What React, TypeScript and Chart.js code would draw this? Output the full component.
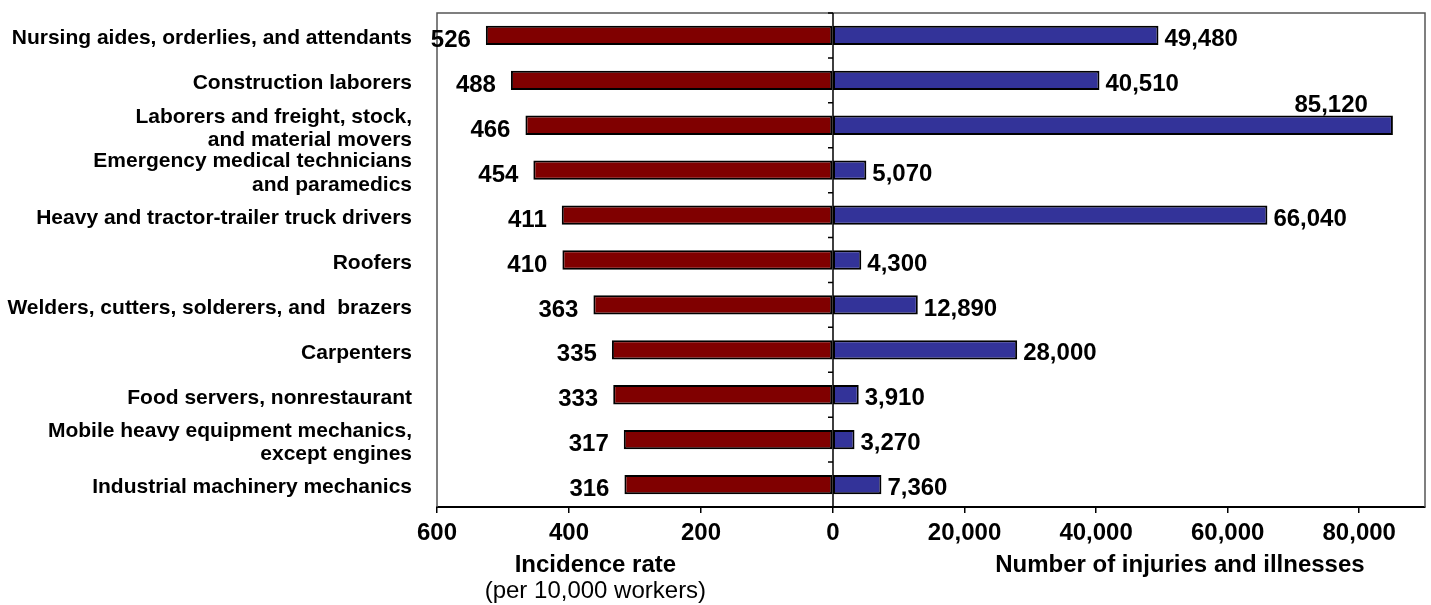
import { useEffect, useRef } from "react";
import { Chart, registerables } from "chart.js";

Chart.register(...registerables);

const categories: (string | string[])[] = [
  "Nursing aides, orderlies, and attendants",
  "Construction laborers",
  ["Laborers and freight, stock,", "and material movers"],
  ["Emergency medical technicians", "and paramedics"],
  "Heavy and tractor-trailer truck drivers",
  "Roofers",
  "Welders, cutters, solderers, and  brazers",
  "Carpenters",
  "Food servers, nonrestaurant",
  ["Mobile heavy equipment mechanics,", "except engines"],
  "Industrial machinery mechanics",
];

const incidenceRate = [526, 488, 466, 454, 411, 410, 363, 335, 333, 317, 316];
const injuryCounts = [49480, 40510, 85120, 5070, 66040, 4300, 12890, 28000, 3910, 3270, 7360];

const rateTicks = [0, 200, 400, 600];
const countTicks = [20000, 40000, 60000, 80000];

const rateTitle = "Incidence rate";
const rateSubtitle = "(per 10,000 workers)";
const countTitle = "Number of injuries and illnesses";

const FONT = "'Liberation Sans', Arial, Helvetica, sans-serif";
const fmt = (v: number) => v.toLocaleString("en-US");

export default function App() {
  const ref = useRef<HTMLCanvasElement | null>(null);

  useEffect(() => {
    if (!ref.current) return;

    const framePlugin = {
      id: "frame",
      beforeDatasetsDraw(chart: any) {
        const { ctx, chartArea } = chart;
        ctx.save();
        ctx.strokeStyle = "#555555";
        ctx.lineWidth = 1.5;
        ctx.beginPath();
        ctx.moveTo(chartArea.left, chartArea.bottom);
        ctx.lineTo(chartArea.left, chartArea.top);
        ctx.lineTo(chartArea.right, chartArea.top);
        ctx.lineTo(chartArea.right, chartArea.bottom);
        ctx.stroke();
        ctx.restore();
      },
    };

    const centerPlugin = {
      id: "center",
      afterDatasetsDraw(chart: any) {
        const { ctx, chartArea, scales } = chart;
        const x0 = scales.xL.getPixelForValue(0);
        const y = scales.y;
        const half = (y.getPixelForValue(1) - y.getPixelForValue(0)) / 2;
        ctx.save();
        ctx.strokeStyle = "#000";
        ctx.lineWidth = 1.5;
        ctx.beginPath();
        ctx.moveTo(x0, chartArea.top);
        ctx.lineTo(x0, chartArea.bottom);
        for (let i = 0; i <= categories.length; i++) {
          const yb = y.getPixelForValue(i) - half;
          ctx.moveTo(x0 - 5, yb);
          ctx.lineTo(x0, yb);
        }
        ctx.stroke();
        ctx.restore();
      },
    };

    const valuePlugin = {
      id: "values",
      afterDatasetsDraw(chart: any) {
        const { ctx, chartArea } = chart;
        ctx.save();
        ctx.fillStyle = "#000";
        ctx.font = `bold 24px ${FONT}`;
        ctx.textBaseline = "middle";
        chart.getDatasetMeta(0).data.forEach((bar: any, i: number) => {
          ctx.textAlign = "right";
          ctx.fillText(String(incidenceRate[i]), bar.x - 15, bar.y + 5);
        });
        chart.getDatasetMeta(1).data.forEach((bar: any, i: number) => {
          const text = fmt(injuryCounts[i]);
          const w = ctx.measureText(text).width;
          if (bar.x + 6 + w > chartArea.right) {
            ctx.textAlign = "right";
            ctx.fillText(text, bar.x - 25, bar.y - 20);
          } else {
            ctx.textAlign = "left";
            ctx.fillText(text, bar.x + 6, bar.y + 4);
          }
        });
        ctx.restore();
      },
    };

    const titlePlugin = {
      id: "titles",
      afterDraw(chart: any) {
        const { ctx, chartArea, scales } = chart;
        const xL = scales.xL;
        const xR = scales.xR;
        ctx.save();
        ctx.fillStyle = "#000";
        ctx.textAlign = "center";
        ctx.textBaseline = "middle";
        ctx.font = `bold 24px ${FONT}`;
        const lx = xL.left + (xL.right - xL.left) * 0.4;
        const rx = xR.left + (xR.right - xR.left) * 0.586;
        ctx.fillText(rateTitle, lx, chartArea.bottom + 58);
        ctx.fillText(countTitle, rx, chartArea.bottom + 58);
        ctx.font = `24px ${FONT}`;
        ctx.fillText(rateSubtitle, lx, chartArea.bottom + 84);
        ctx.restore();
      },
    };

    const tickFont = { family: FONT, size: 24, weight: "bold" as const };
    const xGrid = {
      display: true,
      drawOnChartArea: false,
      drawTicks: true,
      tickLength: 6,
      color: "#000",
      lineWidth: 1.5,
    };

    const chart = new Chart(ref.current, {
      type: "bar",
      data: {
        labels: categories as any,
        datasets: [
          {
            label: rateTitle,
            data: incidenceRate,
            xAxisID: "xL",
            yAxisID: "y",
            backgroundColor: "#800000",
            borderColor: "#000",
            borderWidth: 2,
            borderSkipped: false,
            grouped: false,
            categoryPercentage: 1,
            barPercentage: 0.43,
          } as any,
          {
            label: countTitle,
            data: injuryCounts,
            xAxisID: "xR",
            yAxisID: "y",
            backgroundColor: "#333399",
            borderColor: "#000",
            borderWidth: 2,
            borderSkipped: false,
            grouped: false,
            categoryPercentage: 1,
            barPercentage: 0.43,
          } as any,
        ],
      },
      options: {
        indexAxis: "y",
        responsive: true,
        maintainAspectRatio: false,
        animation: false,
        layout: { padding: { top: 13, right: 6, bottom: 57, left: 0 } },
        plugins: {
          legend: { display: false },
          tooltip: { enabled: false },
        },
        scales: {
          y: {
            type: "category",
            position: "left",
            grid: { display: false },
            border: { display: false },
            ticks: {
              autoSkip: false,
              padding: 17,
              labelOffset: 3,
              color: "#000",
              font: { family: FONT, size: 21, weight: "bold", lineHeight: 1.1 },
            },
            afterFit: (s: any) => {
              s.width = 437;
              s.paddingTop = 0;
              s.paddingBottom = 0;
            },
          },
          xL: {
            type: "linear",
            position: "bottom",
            stack: "x",
            stackWeight: 396,
            min: 0,
            max: 600,
            reverse: true,
            afterBuildTicks: (s: any) => {
              s.ticks = rateTicks.map((v) => ({ value: v }));
            },
            grid: xGrid,
            border: { display: true, color: "#000", width: 2 },
            ticks: {
              autoSkip: false,
              maxRotation: 0,
              padding: 6,
              color: "#000",
              font: tickFont,
              callback: (v: any) => String(v),
            },
            afterFit: (s: any) => {
              s.height = 41;
              s.paddingLeft = 0;
              s.paddingRight = 0;
            },
          },
          xR: {
            type: "linear",
            position: "bottom",
            stack: "x",
            stackWeight: 592,
            min: 0,
            max: 90000,
            afterBuildTicks: (s: any) => {
              s.ticks = countTicks.map((v) => ({ value: v }));
            },
            grid: xGrid,
            border: { display: true, color: "#000", width: 2 },
            ticks: {
              autoSkip: false,
              maxRotation: 0,
              padding: 6,
              color: "#000",
              font: tickFont,
              callback: (v: any) => fmt(Number(v)),
            },
            afterFit: (s: any) => {
              s.height = 41;
              s.paddingLeft = 0;
              s.paddingRight = 0;
            },
          },
        } as any,
      },
      plugins: [framePlugin, centerPlugin, valuePlugin, titlePlugin],
    });

    return () => chart.destroy();
  }, []);

  return (
    <div
      style={{
        position: "fixed",
        left: 0,
        top: 0,
        width: 1431,
        height: 605,
        background: "#fff",
      }}
    >
      <canvas ref={ref} />
    </div>
  );
}
